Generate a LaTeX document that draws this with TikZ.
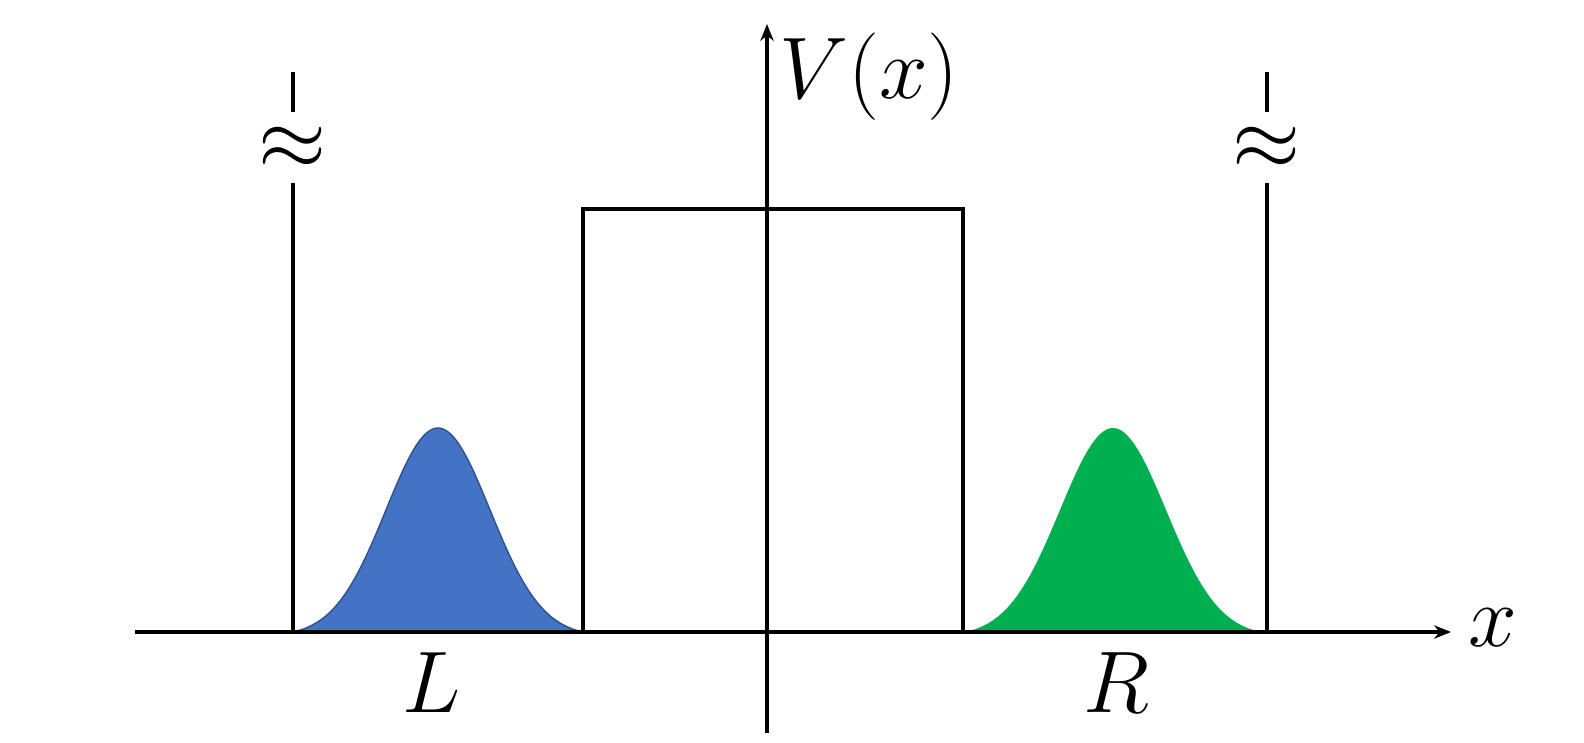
\documentclass[tikz,border=0pt]{standalone}
\usepackage{amsmath,amssymb}
\usepackage{tikz}
\usetikzlibrary{arrows.meta}
\definecolor{packetl}{RGB}{68,114,196}
\definecolor{packetledge}{RGB}{47,82,143}
\definecolor{packetr}{RGB}{0,176,80}

\begin{document}
\begin{tikzpicture}[x=0.01cm, y=-0.01cm,
    wall/.style = {line width=1.3pt},
    axis/.style = {line width=0.9pt, -{Stealth[length=4.8pt, width=3.8pt]}},
    big/.style = {font=\fontsize{24}{28}\selectfont}]
        \useasboundingbox (0,0) rectangle (1584,742);
        \coordinate(XL) at (135,632);
        \coordinate(XR) at (1451,632);
        \coordinate(YB) at (767,733);
        \coordinate(YT) at (767,24);
        \coordinate(A) at (293,632);
        \coordinate(B) at (583,632);
        \coordinate(C) at (963,632);
        \coordinate(D) at (1267,632);

        % left packet
        \path[draw=packetledge, fill=packetl, line width=0.4pt] (A) -- plot[domain=293:583, samples=90]
            (\x, {632-204*(exp(-0.5*((\x-438)/52)*((\x-438)/52))-0.0205)/0.9795}) -- cycle;
        % right packet
        \path[fill=packetr] (C) -- plot[domain=963:1262, samples=90]
            (\x, {632-204*(exp(-0.5*((\x-1113)/53)*((\x-1113)/53))-0.0205)/0.9795}) -- cycle;

        % walls
        \path[draw, wall] (293,72) -- (293,112);
        \path[draw, wall] (293,183) -- (A);
        \path[draw, wall] (1267,72) -- (1267,112);
        \path[draw, wall] (1267,183) -- (D);
        \node[big] (wl) at (293,148) {$\approx$};
        \node[big] (wr) at (1267,148) {$\approx$};
        % barrier
        \path[draw, wall] (B) -- (583,209) -- (963,209) -- (C);

        % axes
        \path[draw, axis] (XL) -- (XR);
        \path[draw, axis] (YB) -- (YT);
        \node[big, anchor=west] (xlab) at (1456,628) {$x$};
        \node[big] (vlab) at (869,77) {$V(x)$};
        \node[big] (llab) at (432,683) {$L$};
        \node[big] (rlab) at (1116,683) {$R$};
\end{tikzpicture}
\end{document}
